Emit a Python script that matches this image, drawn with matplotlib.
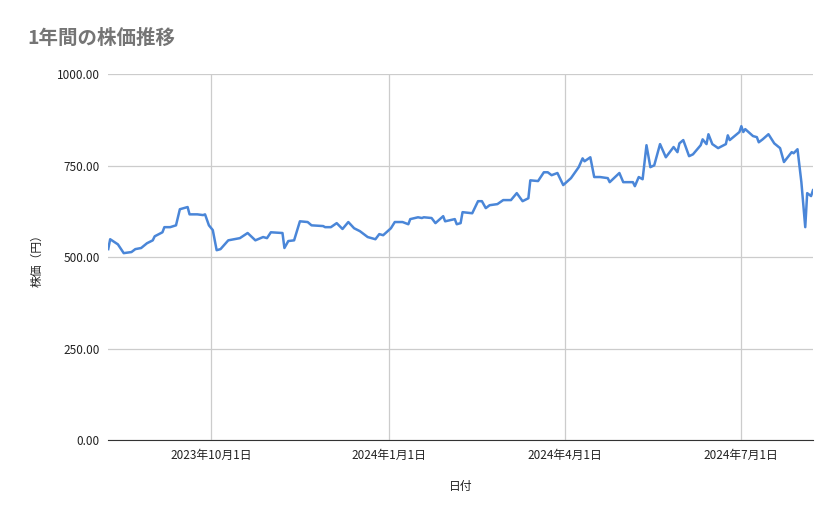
import matplotlib
matplotlib.use("Agg")
import matplotlib.pyplot as plt
import pandas as pd

plt.rcParams['font.family'] = ['Noto Sans CJK JP', 'DejaVu Sans']

start_date = "2023-08-09"
end_date = "2024-08-07"
day_offsets = [0,1,5,8,12,14,17,20,23,24,28,29,32,35,37,41,42,46,49,50,52,54,56,58,62,65,68,72,76,80,82,84,90,91,93,96,99,103,105,111,112,115,118,121,124,127,130,134,138,140,142,
               146,148,152,155,156,160,162,163,167,169,173,174,179,180,182,183,188,191,193,195,197,201,204,208,211,214,217,218,222,225,227,229,232,235,239,243,245,246,249,251,254,258,259,
               264,266,271,272,274,276,278,280,282,285,288,292,294,295,297,300,302,306,307,309,310,312,315,319,320,321,326,327,328,329,333,335,336,338,341,344,347,349,353,354,356,358,360,361,363,364]
prices = [522,549,535,511,514,522,525,538,546,557,568,582,582,587,631,637,617,617,615,617,587,574,519,522,546,549,552,566,546,555,552,568,566,525,544,546,598,596,587,585,582,582,593,577,596,579,571,555,549,563,560,
          579,596,596,590,604,609,607,609,607,593,612,598,604,590,593,623,620,653,653,634,642,645,656,656,675,653,661,710,708,732,732,724,730,697,716,746,770,762,773,719,719,716,705,
          730,705,705,694,719,713,806,746,751,809,773,801,787,811,820,776,781,806,822,809,836,809,798,809,833,820,842,858,842,850,831,828,814,822,836,811,798,760,787,784,795,705,582,675,667,683]
x_ticks = ["2023-10-01", "2024-01-01", "2024-04-01", "2024-07-01"]
y_ticks = [0, 250, 500, 750, 1000]

dates = pd.Timestamp(start_date) + pd.to_timedelta(day_offsets, unit="D")

fig = plt.figure(figsize=(8.39, 5.19), dpi=100)
ax = fig.add_axes([0.129, 0.152, 0.84, 0.705])
ax.plot(dates, prices, color="#4a86d8", linewidth=1.8)
ax.set_xlim(pd.Timestamp(start_date), pd.Timestamp(end_date))
ax.set_ylim(0, 1000)
ax.set_yticks(y_ticks)
ax.set_yticklabels([f"{v:.2f}" for v in y_ticks], fontsize=8.5, color="#222222")
xt = [pd.Timestamp(d) for d in x_ticks]
ax.set_xticks(xt)
ax.set_xticklabels([f"{d.year}年{d.month}月{d.day}日" for d in xt], fontsize=8.5, color="#222222")
ax.grid(True, color="#cccccc", linewidth=0.9)
ax.set_axisbelow(True)
for s in ["top", "right", "left"]:
    ax.spines[s].set_visible(False)
ax.spines["bottom"].set_color("#333333")
ax.tick_params(length=0, pad=6)
ax.set_xlabel("日付", fontsize=8.5, labelpad=13, color="#222222")
ax.set_ylabel("株価（円）", fontsize=8.5, labelpad=10, color="#222222")
fig.text(0.033, 0.915, "1年間の株価推移", fontsize=14, fontweight="bold", color="#757575")
fig.savefig("out.png", dpi=100, facecolor="white")
